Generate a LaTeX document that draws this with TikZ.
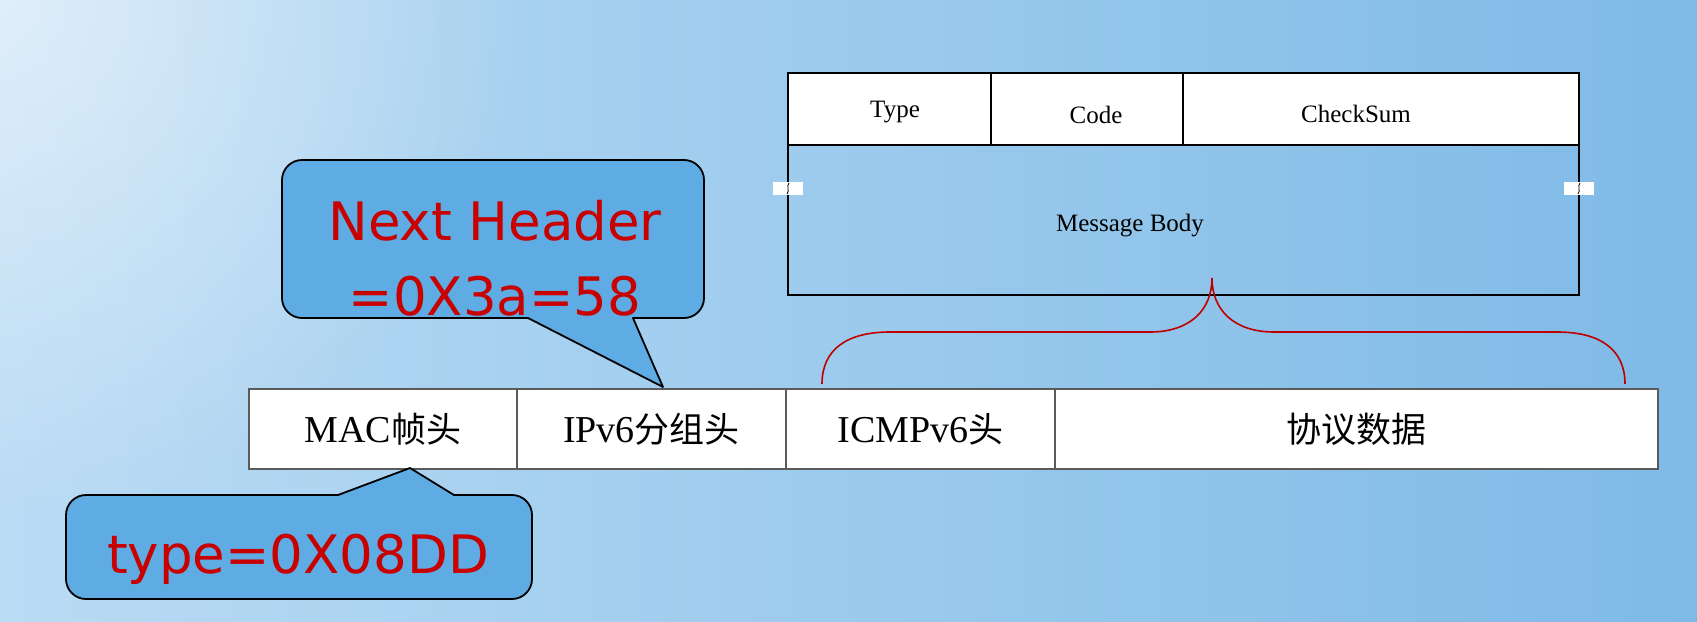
\documentclass[tikz,border=0pt]{standalone}
\usepackage{fontspec}
\usetikzlibrary{fadings}
\setmainfont{Liberation Serif}
\newfontfamily\cjk{Noto Sans CJK SC}
\newfontfamily\callfont{DejaVu Sans}
\definecolor{bgL}{RGB}{186,219,244}
\definecolor{bgM}{RGB}{160,204,238}
\definecolor{bgR}{RGB}{126,186,230}
\definecolor{callfill}{RGB}{95,171,227}
\definecolor{callred}{RGB}{200,0,0}
\definecolor{bracered}{RGB}{192,0,0}
\definecolor{pktedge}{RGB}{90,90,90}
\tikzfading[name=glowfade, inner color=transparent!0, outer color=transparent!100]
\begin{document}
\begin{tikzpicture}[x=1pt,y=-1pt,
  callout/.style={fill=callfill,draw=black,line width=1.8pt,line join=round},
  calltext/.style={inner sep=0pt,anchor=base,text=callred,font=\callfont\fontsize{53}{60}\selectfont},
  pktcell/.style={draw=pktedge,fill=white,line width=1.2pt,minimum height=80pt,inner sep=0pt,outer sep=0pt},
  pkttext/.style={inner sep=0pt,anchor=base,font=\fontsize{38}{44}\selectfont},
  hdrcell/.style={draw=black,fill=white,line width=1.2pt,minimum height=72pt,inner sep=0pt,outer sep=0pt},
  bodycell/.style={draw=black,line width=1.2pt,minimum height=150pt,minimum width=791pt,inner sep=0pt,outer sep=0pt},
  hdrtext/.style={inner sep=0pt,anchor=base,font=\fontsize{25}{30}\selectfont},
  tab/.style={fill=white,draw=none,minimum width=30pt,minimum height=13pt,inner sep=0pt},
  bracestyle/.style={draw=bracered,line width=1.6pt}
]
\useasboundingbox (0,0) rectangle (1697,621);
\shade[left color=bgL,middle color=bgM,right color=bgR] (0,0) rectangle (1697,621);
\begin{scope}
\clip (0,0) rectangle (1697,621);
\fill[white,opacity=0.55,path fading=glowfade] (0,0) circle (520);
\end{scope}

% ---- ICMPv6 message format box ----
\node[bodycell] (body) at (1183.5,220) {};
\node[hdrcell,minimum width=203pt] (type) at (889.5,109) {};
\node[hdrcell,minimum width=192pt] (code) at (1087,109) {};
\node[hdrcell,minimum width=396pt] (csum) at (1381,109) {};
\node[hdrtext] (typet) at (895,117) {Type};
\node[hdrtext] (codet) at (1096,123) {Code};
\node[hdrtext] (csumt) at (1356,122) {CheckSum};
\node[hdrtext] (bodyt) at (1130,231) {Message Body};
\node[tab] (tabL) at (788,188.5) {};
\node[tab] (tabR) at (1579,188.5) {};
\draw[line width=0.8pt] (789,183) .. controls (786,186) and (790,191) .. (787,194);
\draw[line width=0.8pt] (1580,183) .. controls (1577,186) and (1581,191) .. (1578,194);

% ---- brace ----
\coordinate (braceL) at (822,384);
\coordinate (braceTip) at (1212,278);
\coordinate (braceR) at (1625,384);
\draw[bracestyle] (braceL) .. controls (822,350) and (846,332) .. (890,332) -- (1150,332)
  .. controls (1190,332) and (1212,310) .. (braceTip);
\draw[bracestyle] (braceTip) .. controls (1212,310) and (1234,332) .. (1274,332) -- (1557,332)
  .. controls (1601,332) and (1625,350) .. (braceR);

% ---- packet bar ----
\node[pktcell,minimum width=268pt] (mac) at (383,429) {};
\node[pktcell,minimum width=269pt] (ipv6) at (651.5,429) {};
\node[pktcell,minimum width=269pt] (icmp) at (920.5,429) {};
\node[pktcell,minimum width=603pt] (data) at (1356.5,429) {};
\node[pkttext] (mact) at (383,442) {MAC{\cjk\fontsize{35}{40}\selectfont 帧头}};
\node[pkttext] (ipv6t) at (651.5,442) {IPv6{\cjk\fontsize{35}{40}\selectfont 分组头}};
\node[pkttext] (icmpt) at (920.5,442) {ICMPv6{\cjk\fontsize{35}{40}\selectfont 头}};
\node[pkttext] (datat) at (1356.5,442) {{\cjk\fontsize{35}{40}\selectfont 协议数据}};

% ---- callout: Next Header ----
\coordinate (tip1) at (663,387);
\draw[callout] (302,160) -- (684,160) .. controls (695,160) and (704,169) .. (704,180)
  -- (704,298) .. controls (704,309) and (695,318) .. (684,318)
  -- (633,318) -- (tip1) -- (528,318)
  -- (302,318) .. controls (291,318) and (282,309) .. (282,298)
  -- (282,180) .. controls (282,169) and (291,160) .. (302,160) -- cycle;
\node[calltext] (nh1) at (495,240) {Next Header};
\node[calltext] (nh2) at (495,315) {=0X3a=58};

% ---- callout: type ----
\coordinate (tip2) at (410,468);
\draw[callout] (86,495) -- (338,495) -- (tip2) -- (454,495) -- (512,495)
  .. controls (523,495) and (532,504) .. (532,515) -- (532,579)
  .. controls (532,590) and (523,599) .. (512,599) -- (86,599)
  .. controls (75,599) and (66,590) .. (66,579) -- (66,515)
  .. controls (66,504) and (75,495) .. (86,495) -- cycle;
\node[calltext] (ty) at (298,573) {type=0X08DD};
\end{tikzpicture}
\end{document}
